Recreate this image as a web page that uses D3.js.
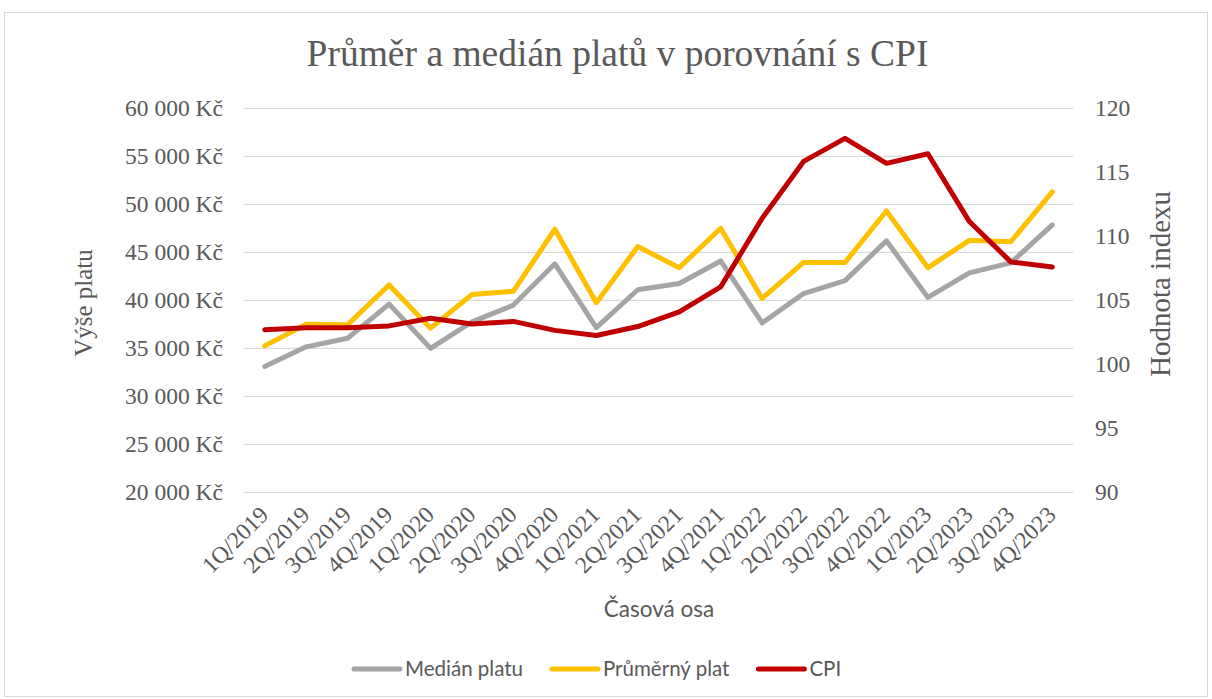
<!DOCTYPE html>
<html><head><meta charset="utf-8">
<script src="https://cdn.jsdelivr.net/npm/d3@7"></script>
<style>body{margin:0;background:#fff}svg{display:block}</style>
</head><body>
<svg id="c" width="1212" height="699"></svg>
<script>
const categories = ["1Q/2019","2Q/2019","3Q/2019","4Q/2019","1Q/2020","2Q/2020","3Q/2020","4Q/2020","1Q/2021","2Q/2021","3Q/2021","4Q/2021","1Q/2022","2Q/2022","3Q/2022","4Q/2022","1Q/2023","2Q/2023","3Q/2023","4Q/2023"];
const medianPlatu = [33100,35150,36050,39600,35000,37750,39500,43800,37150,41100,41750,44100,37650,40700,42050,46200,40300,42850,43900,47850];
const prumernyPlat = [35250,37500,37450,41600,37100,40600,40950,47400,39750,45600,43400,47500,40200,43950,43950,49300,43400,46250,46100,51300];
const cpi = [102.7,102.85,102.85,103.0,103.6,103.15,103.35,102.65,102.25,102.95,104.1,106.05,111.4,115.85,117.65,115.7,116.45,111.15,108.0,107.6];
const leftTicks = [20000,25000,30000,35000,40000,45000,50000,55000,60000];
const rightTicks = [90,95,100,105,110,115,120];
const seriesNames = ["Medián platu","Průměrný plat","CPI"];
const seriesColors = ["#A5A5A5","#FFC000","#C00000"];

const svg = d3.select("#c");
const serif = "'Liberation Serif','Times New Roman',serif";
const sans = "Lato,'Noto Sans',sans-serif";
const textCol = "#595959";

svg.append("rect").attr("x",4.5).attr("y",12.5).attr("width",1203).attr("height",684)
  .attr("fill","#fff").attr("stroke","#d9d9d9");

const m = {l:244, r:1073, t:108.3, b:492.3};
const x = d3.scaleBand().domain(categories).range([m.l,m.r]);
const yL = d3.scaleLinear().domain([20000,60000]).range([m.b,m.t]);
const yR = d3.scaleLinear().domain([90,120]).range([m.b,m.t]);

// gridlines
svg.append("g").selectAll("line").data(leftTicks).join("line")
  .attr("x1",m.l).attr("x2",m.r).attr("y1",d=>yL(d)).attr("y2",d=>yL(d))
  .attr("stroke","#d9d9d9").attr("stroke-width",1.3);

const fmt = d => d3.format(",")(d).replace(/,/g," ") + " Kč";
// left axis
const gl = svg.append("g").attr("transform",`translate(${m.l},0)`)
  .call(d3.axisLeft(yL).tickValues(leftTicks).tickFormat(fmt).tickSize(0).tickPadding(21));
gl.select(".domain").remove();
gl.selectAll("text").attr("font-family",serif).attr("font-size",23.5).attr("fill",textCol);

// right axis
const gr = svg.append("g").attr("transform",`translate(${m.r},0)`)
  .call(d3.axisRight(yR).tickValues(rightTicks).tickSize(0).tickPadding(22));
gr.select(".domain").remove();
gr.selectAll("text").attr("font-family",serif).attr("font-size",23.5).attr("fill",textCol);

// x axis labels
const gx = svg.append("g").attr("transform",`translate(0,${m.b})`)
  .call(d3.axisBottom(x).tickSize(0).tickPadding(0));
gx.select(".domain").remove();
gx.selectAll("text").attr("font-family",serif).attr("font-size",23.5).attr("fill",textCol)
  .attr("text-anchor","end").attr("dy",0).attr("y",0)
  .attr("transform","translate(5,24) rotate(-45)");

// lines
const cx = d => x(d) + x.bandwidth()/2;
const lineL = d3.line().x((d,i)=>cx(categories[i])).y(d=>yL(d));
const lineR = d3.line().x((d,i)=>cx(categories[i])).y(d=>yR(d));
const paths = [[medianPlatu,lineL],[prumernyPlat,lineL],[cpi,lineR]];
paths.forEach(([data,gen],k)=>{
  svg.append("path").attr("d",gen(data)).attr("fill","none")
    .attr("stroke",seriesColors[k]).attr("stroke-width",5)
    .attr("stroke-linejoin","round").attr("stroke-linecap","round");
});

// title
svg.append("text").attr("x",617.5).attr("y",66).attr("text-anchor","middle")
  .attr("font-family",serif).attr("font-size",37.5).attr("fill",textCol)
  .text("Průměr a medián platů v porovnání s CPI");

// axis titles
svg.append("text").attr("transform","translate(92,303) rotate(-90)").attr("text-anchor","middle")
  .attr("font-family",serif).attr("font-size",25).attr("fill",textCol).text("Výše platu");
svg.append("text").attr("transform","translate(1170,284) rotate(-90)").attr("text-anchor","middle")
  .attr("font-family",serif).attr("font-size",29).attr("fill",textCol).text("Hodnota indexu");
svg.append("text").attr("x",659).attr("y",617).attr("text-anchor","middle")
  .attr("font-family",sans).attr("font-size",22.5).attr("fill",textCol).text("Časová osa");

// legend
let lx = 352;
const ly = 669;
seriesNames.forEach((name,k)=>{
  svg.append("line").attr("x1",lx+2).attr("x2",lx+48).attr("y1",ly).attr("y2",ly)
    .attr("stroke",seriesColors[k]).attr("stroke-width",5).attr("stroke-linecap","round");
  const t = svg.append("text").attr("x",lx+53).attr("y",ly+7)
    .attr("font-family",sans).attr("font-size",20.5).attr("fill",textCol).text(name);
  lx += 53 + t.node().getComputedTextLength() + 27;
});
</script>
</body></html>
